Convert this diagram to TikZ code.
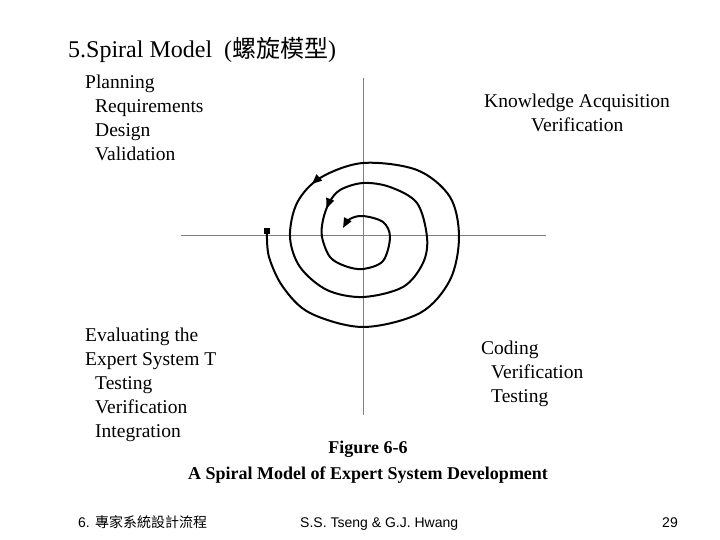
\documentclass[tikz,border=0pt]{standalone}
\usepackage{fontspec}
\setmainfont{Liberation Serif}
\newfontfamily\cjk{Noto Sans CJK TC}
\newfontfamily\footfont{Liberation Sans}
\usetikzlibrary{arrows.meta,decorations.markings}

\begin{document}
\begin{tikzpicture}[x=1pt,y=-1pt]
\tikzstyle{txt} = [anchor=base west,inner sep=0pt,font=\fontsize{19.5}{24}\selectfont]
\tikzstyle{capt} = [anchor=base,inner sep=0pt,font=\fontsize{18}{22}\selectfont\bfseries]
\tikzstyle{foot} = [anchor=base west,inner sep=0pt,font=\fontsize{14}{17}\footfont]
\tikzstyle{axis} = [draw=gray,line width=1pt]
\tikzstyle{spiral} = [line width=2pt,line cap=round,line join=round]
\tikzstyle{dot} = [fill,shape=rectangle,minimum width=6pt,minimum height=5pt,inner sep=0pt]

\useasboundingbox (0,0) rectangle (720,540);

% title
\node[anchor=base west,inner sep=0pt,font=\fontsize{24}{28}\selectfont] (title) at (68,58)
  {5.Spiral Model\ \ ({\cjk 螺旋模型})};

% axes
\coordinate (xl) at (181,235.5);
\coordinate (xr) at (546,235.5);
\coordinate (yt) at (363,78);
\coordinate (yb) at (363,415);
\draw[axis] (xl) -- (xr);
\draw[axis] (yt) -- (yb);

% quadrant labels
\node[txt] (plan)   at (85,89)  {Planning};
\node[txt] (req)    at (95,113) {Requirements};
\node[txt] (design) at (95,137) {Design};
\node[txt] (valid)  at (95,161) {Validation};

\node[txt] (know)   at (484,108) {Knowledge Acquisition};
\node[txt] (kverif) at (531,132) {Verification};

\node[txt] (eval)   at (85,341) {Evaluating the};
\node[txt] (expsys) at (85,365) {Expert System T};
\node[txt] (etest)  at (95,389) {Testing};
\node[txt] (everif) at (95,413) {Verification};
\node[txt] (integ)  at (95,437) {Integration};

\node[txt] (coding) at (481,354) {Coding};
\node[txt] (cverif) at (491,378) {Verification};
\node[txt] (ctest)  at (491,402) {Testing};

% spiral
\node[dot] (start) at (267,231) {};
\draw[spiral,-{Triangle[length=10pt,width=8pt]},
  postaction={decorate},
  decoration={markings,
    mark=at position 0.45 with {\arrow{Triangle[length=10pt,width=8pt]}},
    mark=at position 0.82 with {\arrow{Triangle[length=10pt,width=8pt]}}}]
  plot[smooth,tension=0.55] coordinates {
    (start.south) (269,257) (283,287) (310,313) (363,327) (420,313) (450,280)
    (459,237) (450,197) (417,170) (363,163) (320,178) (297,203) (290,237)
    (300,267) (327,290) (363,297) (403,287) (423,263) (427,237) (417,203)
    (390,187) (363,183) (340,190) (329,203) (323,220) (322,237) (330,257)
    (345,266) (363,269) (383,261) (390,237) (383,222) (363,216) (350,219)
    (343,228)};

% caption
\node[capt] (fig) at (368,453) {Figure 6-6};
\node[capt] (caption) at (368,479) {A Spiral Model of Expert System Development};

% footer
\node[foot] (foot1) at (78,527) {6. {\cjk 專家系統設計流程}};
\node[foot] (foot2) at (300,527) {S.S. Tseng \& G.J. Hwang};
\node[foot,anchor=base east] (page) at (678,527) {29};
\end{tikzpicture}
\end{document}
